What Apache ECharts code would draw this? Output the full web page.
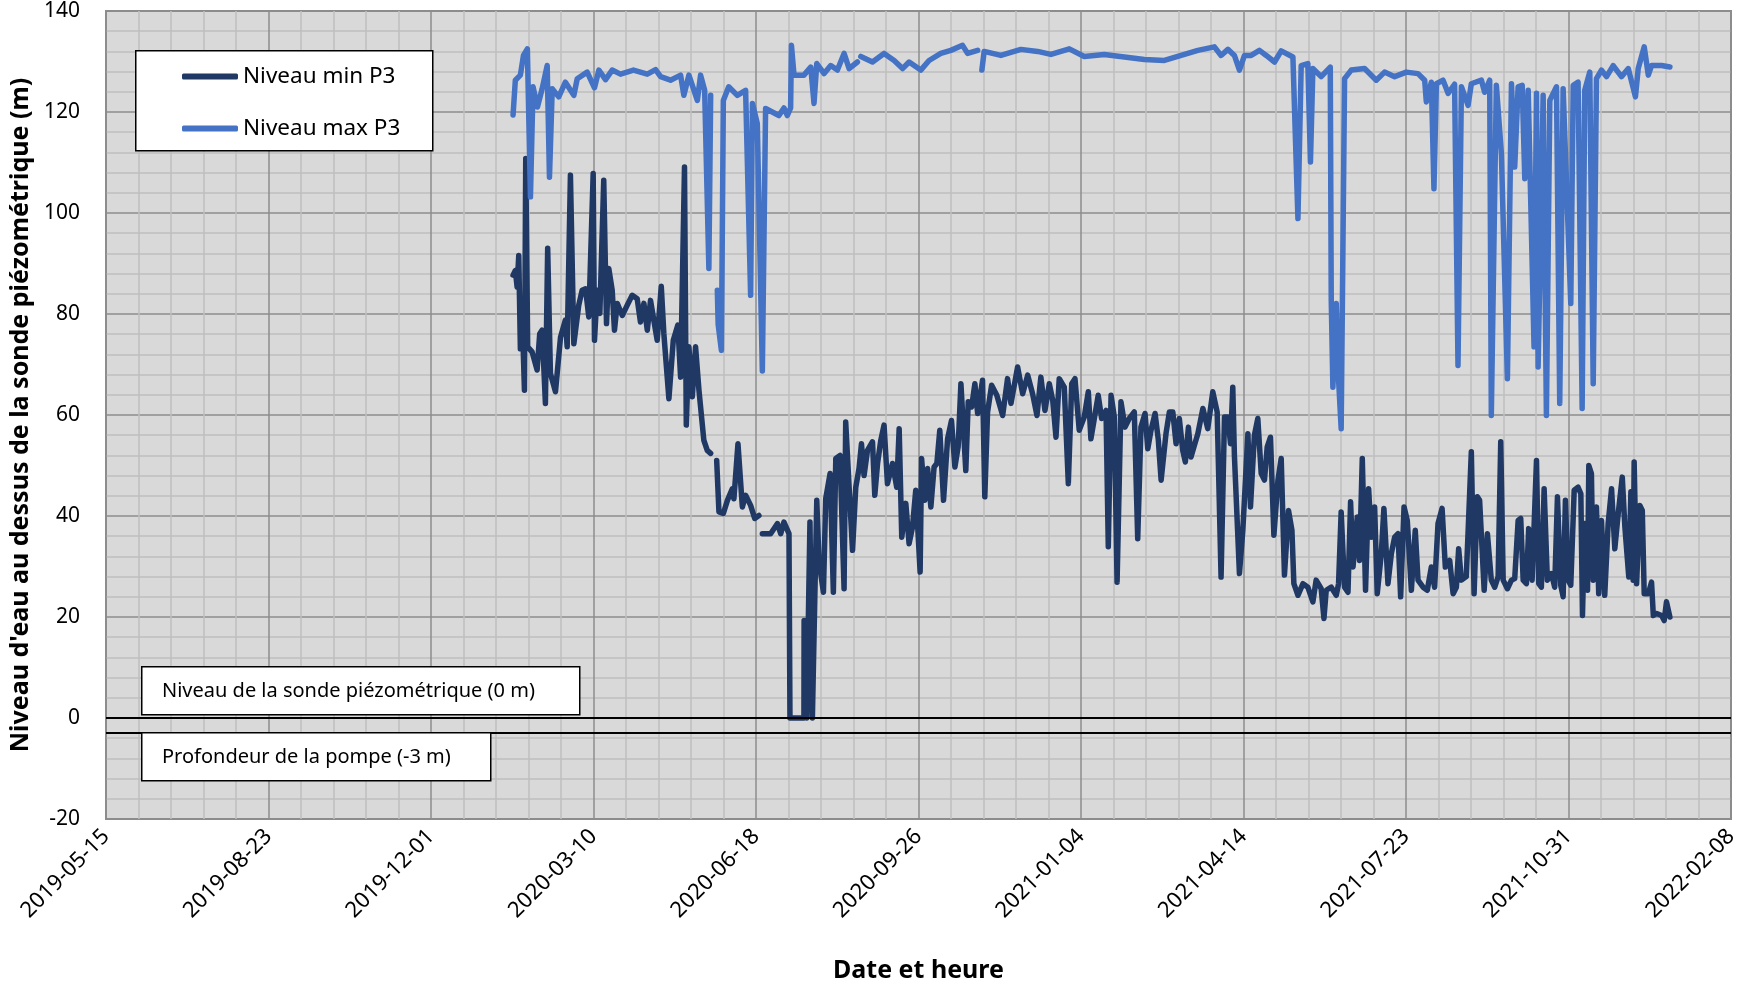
<!DOCTYPE html>
<html>
<head>
<meta charset="utf-8">
<script src="https://cdn.jsdelivr.net/npm/echarts@6/dist/echarts.min.js"></script>
<style>
html,body{margin:0;padding:0;background:#fff;}
#chart{width:1738px;height:987px;}
</style>
</head>
<body>
<div id="chart"></div>
<script>
// Days since 2019-05-15 (x) and water level in m (y)
const START = Date.UTC(2019, 4, 15);
const xTickDays = [0,100,200,300,400,500,600,700,800,900,1000];
const yTicks = [-20,0,20,40,60,80,100,120,140];
const refLevels = [0, -3];
const seriesNames = ['Niveau min P3', 'Niveau max P3'];

const maxDays = [250.5,251.9,255.0,256.9,259.3,261.2,262.8,265.5,268.4,271.5,272.9,274.6,278.6,282.7,287.9,290.0,296.1,300.6,303.3,307.4,311.5,316.6,324.6,333.1,338.2,341.3,347.4,353.6,355.6,358.7,363.9,365.9,368.4,371.0,372.1,374.0,376.2,376.7,378.7,379.9,383.2,388.5,393.6,396.7,397.8,400.8,403.9,405.9,414.1,417.2,419.3,421.3,421.8,423.4,429.5,433.7,435.7,437.4,441.9,446.0,450.1,454.2,457.3,462.4,463.5,464.5,471.7,478.8,485.0,490.2,494.2,501.4,506.5,513.7,519.9,527.1,530.2,536.4,537.7,539.0,540.4,550.7,563.0,573.3,581.5,592.8,602.0,614.3,626.7,639.0,651.3,661.6,671.9,682.1,686.2,690.4,694.4,697.5,700.6,704.7,709.8,714.0,719.1,723.2,730.4,733.5,735.5,739.6,741.2,742.7,747.8,753.4,754.0,755.0,757.1,758.1,760.1,762.2,766.3,774.5,781.7,786.8,793.0,800.2,807.4,811.5,812.5,815.6,817.2,818.7,822.8,825.9,829.9,832.0,834.1,838.2,840.2,846.4,848.4,851.5,852.5,855.6,858.7,862.4,864.9,866.9,869.0,871.5,873.1,875.2,878.8,880.3,881.3,884.4,886.4,888.5,892.6,894.6,896.7,901.4,902.9,905.9,908.4,910.0,913.1,915.2,917.2,920.3,923.4,927.5,932.6,936.8,941.2,942.9,946.6,949.1,951.1,957.3,962.4];
const maxValues = [119.4,126.3,127.3,131.2,132.5,103.2,125.0,121.0,124.6,129.2,107.1,124.6,123.0,125.9,123.3,126.6,127.9,124.8,128.3,126.4,128.3,127.5,128.3,127.5,128.4,127.0,126.3,127.3,123.3,127.3,122.3,127.3,124.3,89.0,123.3,null,84.7,78.0,72.8,122.3,125.0,123.3,124.3,83.7,121.7,117.7,68.7,120.7,119.3,120.8,119.3,120.8,133.2,127.3,127.3,128.9,121.7,129.6,127.6,129.2,128.3,131.6,128.6,129.9,null,131.0,129.9,131.6,130.2,128.6,129.9,128.3,130.2,131.6,132.2,133.2,131.6,132.2,null,128.3,132.0,131.2,132.4,132.0,131.4,132.5,131.0,131.4,130.9,130.4,130.2,131.2,132.2,132.9,131.2,132.4,131.2,128.3,131.2,131.2,132.2,131.2,129.9,132.1,130.9,98.9,129.2,129.6,110.1,128.6,127.0,128.9,82.7,65.5,82.1,69.5,57.3,126.6,128.3,128.6,126.3,127.9,127.0,127.9,127.6,126.3,122.0,125.9,104.8,125.6,126.3,123.7,125.5,69.8,125.0,121.3,125.6,126.3,123.9,126.3,59.9,125.3,111.8,67.2,125.6,109.1,125.0,125.3,106.8,124.3,73.5,123.7,69.5,123.3,59.9,122.3,125.0,62.3,124.6,82.1,125.3,125.9,61.3,124.3,127.9,66.2,126.6,128.3,127.0,129.2,127.0,128.6,123.0,128.6,132.9,127.3,129.2,129.2,128.9];

const minDays = [250.5,251.9,253.0,254.0,255.0,256.7,257.5,258.3,259.5,262.2,265.3,266.9,268.4,270.4,271.8,273.5,276.6,279.7,282.7,283.8,285.8,287.9,290.9,293.0,295.1,297.1,299.8,300.6,302.3,303.9,306.3,308.0,309.4,311.5,312.9,314.6,317.7,320.7,323.8,326.9,328.9,331.0,333.1,335.1,337.1,339.2,341.7,343.3,346.4,349.1,351.9,353.6,356.0,357.1,358.7,360.8,362.8,364.9,367.9,370.0,372.1,374.0,375.8,377.2,379.9,382.4,385.4,386.4,388.9,391.6,393.6,396.7,399.2,401.8,402.8,403.9,409.0,413.2,415.2,417.2,420.3,420.9,429.5,429.6,431.2,433.2,434.7,437.4,438.8,441.5,442.9,445.6,447.6,449.1,451.7,454.2,455.2,457.3,459.4,461.4,463.4,464.9,466.5,468.6,471.7,473.1,474.8,476.8,478.8,480.9,484.0,486.6,488.1,489.7,492.2,494.2,496.3,498.3,501.0,501.9,503.9,505.6,507.6,509.6,511.3,513.1,515.4,517.9,520.3,522.4,524.4,526.1,529.1,530.6,532.7,534.7,536.4,539.4,540.8,542.5,545.0,548.2,551.8,554.8,556.9,561.0,564.1,567.2,570.2,572.9,575.3,577.8,580.5,582.6,584.6,586.6,589.7,592.2,594.3,596.3,598.9,602.0,604.5,606.1,608.2,610.6,612.7,615.4,616.8,618.5,620.5,622.2,624.6,627.1,629.7,632.8,634.9,636.9,639.4,641.1,643.1,645.6,647.6,649.3,652.3,654.4,656.5,658.5,660.5,662.6,664.2,666.1,667.7,669.8,671.9,675.0,678.0,681.1,683.8,686.2,688.3,690.4,692.0,693.4,694.4,697.5,699.6,702.7,704.3,706.7,708.8,710.9,712.9,714.6,716.6,718.7,721.2,723.2,725.2,727.7,729.8,731.0,733.5,736.6,739.6,742.7,744.7,747.8,749.5,750.9,754.0,757.1,758.5,760.1,762.2,764.3,765.9,767.4,770.0,771.4,773.1,775.1,777.0,778.6,780.7,782.3,784.8,786.4,788.9,791.0,793.0,795.1,796.7,798.8,800.8,803.3,805.7,807.4,810.5,813.1,815.6,817.6,819.7,822.2,824.2,826.9,829.0,831.0,832.4,834.1,837.1,840.2,841.9,843.9,845.3,848.1,850.1,852.5,854.6,856.7,858.3,859.8,862.4,864.9,866.9,869.0,870.6,872.1,874.1,875.5,877.6,880.3,881.7,883.3,885.0,887.0,889.5,891.5,893.2,895.2,896.7,898.1,899.8,901.4,903.5,905.9,907.6,908.6,910.0,911.7,912.5,914.1,915.2,917.2,918.6,920.3,922.3,924.4,926.5,928.5,930.6,933.1,934.7,937.1,938.4,939.8,940.4,941.9,943.9,945.4,946.6,949.1,951.1,952.2,954.2,957.3,958.9,960.3,962.4];
const minValues = [87.7,88.6,85.3,91.6,73.1,73.5,64.9,110.8,73.5,72.5,68.9,76.1,76.8,62.3,93.0,68.2,64.6,75.4,78.8,73.5,107.5,74.1,81.7,84.7,85.0,79.4,107.8,74.8,84.7,80.1,106.5,78.1,89.0,84.7,76.8,82.1,79.7,81.7,83.7,83.0,78.4,82.1,76.8,82.7,78.8,74.8,85.5,76.1,63.2,74.8,77.8,67.5,109.1,58.0,73.5,63.6,73.5,64.9,55.0,53.0,52.4,null,51.0,40.8,40.5,43.1,45.4,43.4,54.3,41.8,44.1,42.1,39.5,40.1,null,36.5,36.5,38.5,36.5,38.8,36.5,0,0,19.3,0,38.8,0,43.1,30.9,24.9,43.4,48.4,24.9,51.4,52.0,25.6,58.6,45.7,33.2,45.7,49.4,54.3,48.0,53.0,54.7,44.1,50.4,55.0,58.0,46.4,50.4,45.7,57.3,35.8,42.5,34.5,37.8,45.1,28.9,51.4,43.1,49.4,41.8,49.7,50.4,57.0,43.1,55.3,58.9,49.7,53.7,66.2,49.0,62.6,61.6,66.2,60.3,66.9,43.8,60.6,65.9,63.9,59.9,67.2,62.3,69.5,64.2,67.9,64.2,59.9,67.5,60.9,66.2,62.9,55.6,67.2,65.5,46.4,66.2,67.2,57.0,59.6,64.6,55.3,59.3,63.9,59.3,60.9,33.9,63.9,59.6,26.9,62.6,57.6,59.3,60.6,35.5,57.6,60.3,53.3,57.0,60.3,55.0,47.1,56.3,60.6,60.6,54.3,59.3,53.0,50.7,57.6,51.7,54.0,56.3,61.3,57.3,64.6,60.6,27.9,59.6,59.6,54.3,65.5,52.0,28.6,37.2,56.3,41.8,56.0,59.3,48.4,47.1,53.7,55.6,36.2,47.1,51.4,28.3,41.1,37.2,26.6,24.3,26.6,25.9,23.0,27.3,25.6,19.7,25.3,25.9,24.3,26.6,40.8,25.9,24.9,42.8,29.9,39.8,31.2,51.4,25.3,45.4,35.8,41.8,24.6,32.6,41.5,26.6,32.6,35.8,36.5,24.0,41.8,39.1,25.3,37.2,27.3,25.9,25.3,29.9,25.9,38.5,41.5,29.9,31.2,24.6,25.9,33.5,27.3,28.0,52.7,24.6,43.8,43.1,25.3,36.5,27.3,25.9,28.0,54.7,27.3,25.6,27.3,27.6,39.1,39.5,27.3,26.6,37.5,27.3,51.0,26.6,25.9,45.4,27.3,28.6,25.9,43.8,26.3,24.0,43.1,27.3,26.3,45.1,45.7,44.4,20.3,38.5,25.3,50.0,48.4,27.3,41.8,24.6,39.1,24.3,38.5,45.4,33.5,40.5,47.7,37.8,27.9,44.8,27.3,50.7,26.6,42.1,41.1,24.6,24.6,26.9,20.3,20.7,20.3,19.3,23.0,20.0];

function zip(days, vals) {
  return days.map((d, i) => [d, vals[i] === null ? '-' : vals[i]]);
}
function fmtDay(d) {
  const dt = new Date(START + d * 86400000);
  const p = n => String(n).padStart(2, '0');
  return dt.getUTCFullYear() + '-' + p(dt.getUTCMonth() + 1) + '-' + p(dt.getUTCDate());
}

const FONT = 'Noto Sans';
const chart = echarts.init(document.getElementById('chart'), null, {renderer: 'canvas'});
const option = {
  animation: false,
  backgroundColor: '#ffffff',
  textStyle: {fontFamily: FONT},
  grid: {
    left: 106, right: 7, top: 11, bottom: 168,
    show: true, backgroundColor: '#d9d9d9', borderColor: '#8c8c8c', borderWidth: 2,
    containLabel: false, outerBoundsMode: 'none'
  },
  legend: {
    show: true,
    z: 100,
    orient: 'vertical',
    left: 177, top: 60,
    itemWidth: 56, itemHeight: 6, itemGap: 29,
    icon: 'roundRect',
    data: seriesNames,
    textStyle: {fontFamily: FONT, fontSize: 22.5, color: '#000'},
  },
  xAxis: {
    type: 'value', min: xTickDays[0], max: xTickDays[xTickDays.length - 1], interval: 100,
    name: 'Date et heure', nameLocation: 'middle', nameGap: 139,
    nameTextStyle: {fontFamily: FONT, fontSize: 25, fontWeight: 'bold', color: '#000'},
    axisLine: {show: false}, axisTick: {show: false},
    axisLabel: {rotate: 45, margin: 14, fontSize: 22, color: '#000', fontFamily: FONT, formatter: v => fmtDay(v)},
    splitLine: {show: true, lineStyle: {color: '#8c8c8c', width: 1.5}},
    minorTick: {show: false, splitNumber: 5},
    minorSplitLine: {show: true, lineStyle: {color: '#bfbfbf', width: 1.5}}
  },
  yAxis: {
    type: 'value', min: yTicks[0], max: yTicks[yTicks.length - 1], interval: 20,
    name: "Niveau d'eau au dessus de la sonde piézométrique (m)", nameLocation: 'middle', nameGap: 72,
    nameTextStyle: {fontFamily: FONT, fontSize: 25, fontWeight: 'bold', color: '#000'},
    axisLine: {show: false}, axisTick: {show: false},
    axisLabel: {margin: 26, fontSize: 21, color: '#000', fontFamily: FONT},
    splitLine: {show: true, lineStyle: {color: '#8c8c8c', width: 1.5}},
    minorTick: {show: false, splitNumber: 5},
    minorSplitLine: {show: true, lineStyle: {color: '#bfbfbf', width: 1.5}}
  },
  graphic: [
    {type: 'rect', left: 135, top: 50, z: 50, shape: {width: 297, height: 100},
     style: {fill: '#fff', stroke: '#000', lineWidth: 1.5}},
    {type: 'rect', left: 141, top: 666, z: 50, shape: {width: 438, height: 48},
     style: {fill: '#fff', stroke: '#000', lineWidth: 1.5}},
    {type: 'text', left: 162, top: 681, z: 51,
     style: {text: 'Niveau de la sonde piézométrique (0 m)', fontFamily: FONT, fontSize: 20, fill: '#000'}},
    {type: 'rect', left: 141, top: 732, z: 50, shape: {width: 349, height: 48},
     style: {fill: '#fff', stroke: '#000', lineWidth: 1.5}},
    {type: 'text', left: 162, top: 747, z: 51,
     style: {text: 'Profondeur de la pompe (-3 m)', fontFamily: FONT, fontSize: 20, fill: '#000'}}
  ],
  series: [
    {
      name: seriesNames[0], type: 'line', showSymbol: false, symbol: 'none', connectNulls: false,
      color: '#1f3864',
      lineStyle: {color: '#1f3864', width: 5.5, cap: 'round', join: 'round'},
      data: zip(minDays, minValues),
      markLine: {
        silent: true, symbol: 'none', label: {show: false},
        lineStyle: {color: '#000', width: 2, type: 'solid'},
        data: refLevels.map(v => ({yAxis: v}))
      },
      z: 3
    },
    {
      name: seriesNames[1], type: 'line', showSymbol: false, symbol: 'none', connectNulls: false,
      color: '#4472c4',
      lineStyle: {color: '#4472c4', width: 5.5, cap: 'round', join: 'round'},
      data: zip(maxDays, maxValues),
      z: 4
    }
  ]
};
chart.setOption(option);
</script>
</body>
</html>
